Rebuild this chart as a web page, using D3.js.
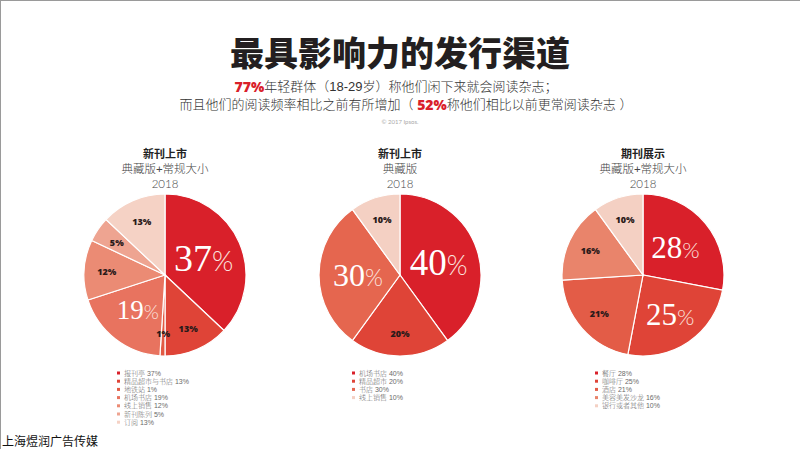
<!DOCTYPE html>
<html>
<head>
<meta charset="utf-8">
<script src="https://cdn.jsdelivr.net/npm/d3@7/dist/d3.min.js"></script>
<style>
  html, body { margin: 0; padding: 0; background: #fff; }
  svg { display: block; }
</style>
</head>
<body>
<svg id="chart" width="800" height="449"></svg>
<script>
// ---------------- DATA ----------------
const pie1Categories = ["报刊亭", "精品超市与书店", "地铁站", "机场书店", "线上销售", "新刊陈列", "订阅"];
const pie1Values = [37, 13, 1, 19, 12, 5, 13];
const pie1Featured = ["报刊亭", "机场书店"];

const pie2Categories = ["机场书店", "精品超市", "书店", "线上销售"];
const pie2Values = [40, 20, 30, 10];
const pie2Featured = ["机场书店", "书店"];

const pie3Categories = ["餐厅", "咖啡厅", "酒店", "美容美发沙龙", "银行或者其他"];
const pie3Values = [28, 25, 21, 16, 10];
const pie3Featured = ["餐厅", "咖啡厅"];

const pieTitles = [
  ["新刊上市", "典藏版+常规大小", "2018"],
  ["新刊上市", "典藏版", "2018"],
  ["期刊展示", "典藏版+常规大小", "2018"]
];

const mainTitle = "最具影响力的发行渠道";
const footer = "上海煜润广告传媒";
const copyright = "© 2017 Ipsos.";

// ---------------- STYLE ----------------
const W = 800, H = 449;
const svg = d3.select("#chart");
const RED = "#d9202a";
const CJK = "'Noto Sans CJK SC', 'Noto Sans', sans-serif";
const CJK_TIGHT = "'Liberation Sans', 'Noto Sans CJK SC', sans-serif";

const pies = [
  { cats: pie1Categories, vals: pie1Values, featured: pie1Featured, cx: 165,
    colors: ["#d9202a", "#df4437", "#e25a44", "#e8735f", "#eb8b74", "#eea491", "#f5d2c5"],
    bigSize: [38, 0, 0, 27], bigR: [0.52, 0, 0, 0.55] },
  { cats: pie2Categories, vals: pie2Values, featured: pie2Featured, cx: 400,
    colors: ["#d9202a", "#df4437", "#e5664f", "#f4d0c3"],
    bigSize: [37, 0, 32], bigR: [0.5, 0, 0.52] },
  { cats: pie3Categories, vals: pie3Values, featured: pie3Featured, cx: 643,
    colors: ["#d9202a", "#df4437", "#e35c47", "#e9846b", "#f4d0c3"],
    bigSize: [31, 31], bigR: [0.52, 0.6] }
];
const CY = 275, R = 81;

// border lines (top / left)
svg.append("line").attr("x1", 0).attr("y1", 0.5).attr("x2", W).attr("y2", 0.5)
  .attr("stroke", "#9a9a9a").attr("stroke-width", 1);
svg.append("line").attr("x1", 0.5).attr("y1", 0).attr("x2", 0.5).attr("y2", H)
  .attr("stroke", "#9a9a9a").attr("stroke-width", 1);

// ---------------- TITLES ----------------
svg.append("text").attr("x", 400).attr("y", 54)
  .attr("text-anchor", "middle").attr("dominant-baseline", "central")
  .attr("font-family", CJK_TIGHT).attr("font-weight", 900).attr("font-size", 34)
  .attr("fill", "#231f20").text(mainTitle);

const sub1 = svg.append("text").attr("x", 396).attr("y", 86)
  .attr("text-anchor", "middle").attr("dominant-baseline", "central")
  .attr("font-family", CJK_TIGHT).attr("font-weight", 300).attr("font-size", 13).attr("fill", "#333");
sub1.append("tspan").attr("font-family", "'Open Sans', sans-serif").attr("font-weight", 800)
  .attr("font-size", 14).attr("fill", RED).text("77%");
sub1.append("tspan").text("年轻群体（18-29岁）称他们闲下来就会阅读杂志；");

const sub2 = svg.append("text").attr("x", 406).attr("y", 104)
  .attr("text-anchor", "middle").attr("dominant-baseline", "central")
  .attr("font-family", CJK_TIGHT).attr("font-weight", 300).attr("font-size", 13).attr("fill", "#333");
sub2.append("tspan").text("而且他们的阅读频率相比之前有所增加（ ");
sub2.append("tspan").attr("font-family", "'Open Sans', sans-serif").attr("font-weight", 800)
  .attr("font-size", 14).attr("fill", RED).text("52%");
sub2.append("tspan").text("称他们相比以前更常阅读杂志 ）");

svg.append("text").attr("x", 400).attr("y", 121)
  .attr("text-anchor", "middle").attr("dominant-baseline", "central")
  .attr("font-family", "Lato, sans-serif").attr("font-size", 6).attr("fill", "#aaa")
  .text(copyright);

svg.append("text").attr("x", 2).attr("y", 440)
  .attr("dominant-baseline", "central")
  .attr("font-family", CJK).attr("font-size", 12).attr("fill", "#111")
  .text(footer);

// ---------------- PIES ----------------
const pieGen = d3.pie().sort(null).value(d => d.value).startAngle(0).endAngle(2 * Math.PI);
const arcGen = d3.arc().innerRadius(0).outerRadius(R);

pies.forEach((p, pi) => {
  const data = p.cats.map((c, i) => ({ cat: c, value: p.vals[i], i }));
  const color = d3.scaleOrdinal().domain(p.cats).range(p.colors);

  // titles
  const t = pieTitles[pi];
  svg.append("text").attr("x", p.cx).attr("y", 154)
    .attr("text-anchor", "middle").attr("dominant-baseline", "central")
    .attr("font-family", CJK_TIGHT).attr("font-weight", 700).attr("font-size", 11)
    .attr("fill", "#222").text(t[0]);
  svg.append("text").attr("x", p.cx).attr("y", 169)
    .attr("text-anchor", "middle").attr("dominant-baseline", "central")
    .attr("font-family", CJK_TIGHT).attr("font-weight", 300).attr("font-size", 11.5)
    .attr("fill", "#444").text(t[1]);
  svg.append("text").attr("x", p.cx).attr("y", 183)
    .attr("text-anchor", "middle").attr("dominant-baseline", "central")
    .attr("font-family", "Lato, sans-serif").attr("font-weight", 300).attr("font-size", 11.5)
    .attr("fill", "#444").text(t[2]);

  const g = svg.append("g").attr("transform", `translate(${p.cx},${CY})`);
  const arcs = pieGen(data);

  g.selectAll("path").data(arcs).enter().append("path")
    .attr("d", arcGen)
    .attr("fill", d => color(d.data.cat))
    .attr("stroke", "#fff").attr("stroke-width", 1.2);

  arcs.forEach((d, i) => {
    const isBig = p.featured.includes(d.data.cat);
    if (isBig) {
      const rr = R * p.bigR[i];
      const lab = d3.arc().innerRadius(rr).outerRadius(rr).centroid(d);
      const fs = p.bigSize[i];
      const tx = g.append("text").attr("x", lab[0]).attr("y", lab[1])
        .attr("text-anchor", "middle").attr("dy", fs * 0.33)
        .attr("fill", "#fff");
      tx.append("tspan").attr("font-family", "'Liberation Serif', 'DejaVu Serif', serif")
        .attr("font-size", fs).text(d.data.value);
      tx.append("tspan").attr("font-family", "Lato, sans-serif").attr("font-weight", 300)
        .attr("font-size", fs * 0.72).attr("fill", "#fbe3df").text("%");
    } else {
      const rr = R * 0.72;
      const lab = d3.arc().innerRadius(rr).outerRadius(rr).centroid(d);
      g.append("text").attr("x", lab[0]).attr("y", lab[1])
        .attr("text-anchor", "middle").attr("dominant-baseline", "central")
        .attr("font-family", "'Open Sans', sans-serif").attr("font-weight", 800)
        .attr("font-size", 9).attr("fill", "#2b1a1a")
        .text(d.data.value + "%");
    }
  });

  // legend
  const lg = svg.append("g").attr("transform", `translate(${p.cx - 48},373)`);
  data.forEach((d, i) => {
    const y = i * 8.2;
    lg.append("rect").attr("x", 0).attr("y", y - 1.5).attr("width", 3).attr("height", 3)
      .attr("fill", color(d.cat));
    lg.append("text").attr("x", 7).attr("y", y).attr("dominant-baseline", "central")
      .attr("font-family", CJK_TIGHT).attr("font-weight", 300).attr("font-size", 7)
      .attr("fill", "#6a6a6a").text(d.cat + " " + d.value + "%");
  });
});
</script>
</body>
</html>
